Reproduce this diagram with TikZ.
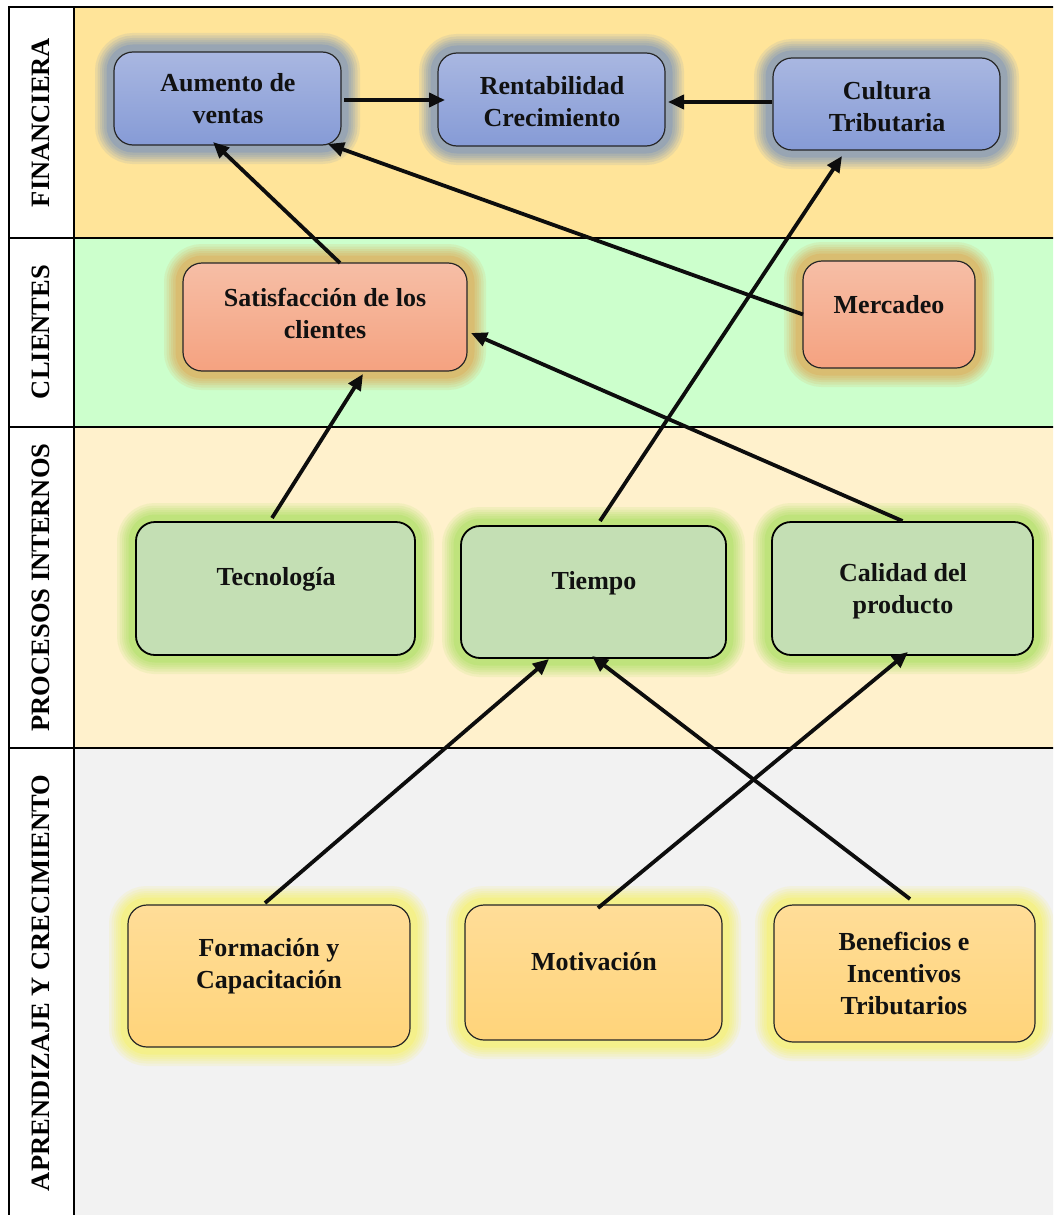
\documentclass[tikz,border=0pt]{standalone}
\usepackage{fontspec}
\setmainfont{Liberation Serif}
\usetikzlibrary{arrows.meta,calc}
\definecolor{finBG}{RGB}{255,228,153}
\definecolor{cliBG}{RGB}{204,255,204}
\definecolor{proBG}{RGB}{255,241,204}
\definecolor{aprBG}{RGB}{242,242,242}
\definecolor{blueTop}{RGB}{169,183,225}
\definecolor{blueBot}{RGB}{134,155,214}
\definecolor{salTop}{RGB}{246,190,166}
\definecolor{salBot}{RGB}{245,162,128}
\definecolor{grnFill}{RGB}{196,223,180}
\definecolor{ylwTop}{RGB}{255,221,152}
\definecolor{ylwBot}{RGB}{255,212,122}
\definecolor{glowBlue}{RGB}{135,155,185}
\definecolor{glowSal}{RGB}{220,178,98}
\definecolor{glowGrn}{RGB}{180,226,110}
\definecolor{glowYlw}{RGB}{246,240,120}
\definecolor{txtc}{RGB}{17,17,17}
\tikzset{
  glow/.style={
    preaction={draw=#1, draw opacity=0.16, line width=38pt},
    preaction={draw=#1, draw opacity=0.18, line width=33pt},
    preaction={draw=#1, draw opacity=0.2, line width=28pt},
    preaction={draw=#1, draw opacity=0.22, line width=24pt},
    preaction={draw=#1, draw opacity=0.25, line width=20pt},
    preaction={draw=#1, draw opacity=0.5, line width=15pt}},
  boxbase/.style={rectangle, rounded corners=19pt, inner sep=0pt, outer sep=0pt,
    draw=black!85, line width=1.2pt},
  bluebox/.style={boxbase, glow=glowBlue, top color=blueTop, bottom color=blueBot},
  salbox/.style={boxbase, glow=glowSal, top color=salTop, bottom color=salBot},
  grnbox/.style={boxbase, glow=glowGrn, fill=grnFill, line width=1.8pt, draw=black},
  ylwbox/.style={boxbase, glow=glowYlw, top color=ylwTop, bottom color=ylwBot},
  txt/.style={align=center, inner sep=0pt, text=txtc,
    font=\fontsize{26}{32}\selectfont\bfseries},
  lanelbl/.style={rotate=90, inner sep=0pt, text=black,
    font=\fontsize{26.5}{30}\selectfont\bfseries},
  arr/.style={line width=3.8pt, draw=black!95,
    -{Triangle[length=16pt,width=14pt]}},
  sep/.style={line width=1.8pt, draw=black}
}
\begin{document}
\begin{tikzpicture}[x=1pt,y=-1pt]
\useasboundingbox (0,0) rectangle (1053,1215);
\clip (0,0) rectangle (1053,1215);
% lanes
\fill[white] (0,0) rectangle (1053,1215);
\fill[finBG] (74,7) rectangle (1060,238);
\fill[cliBG] (74,238) rectangle (1060,427);
\fill[proBG] (74,427) rectangle (1060,748);
\fill[aprBG] (74,748) rectangle (1060,1225);
\draw[sep] (9,1225) -- (9,7) -- (1060,7);
\draw[sep] (9,238) -- (1060,238);
\draw[sep] (9,427) -- (1060,427);
\draw[sep] (9,748) -- (1060,748);
\draw[sep] (74,7) -- (74,1225);
% lane labels
\node[lanelbl] (lF) at (41,122.5) {FINANCIERA};
\node[lanelbl] (lC) at (41,332) {CLIENTES};
\node[lanelbl] (lP) at (41,587.5) {PROCESOS INTERNOS};
\node[lanelbl] (lA) at (41,983) {APRENDIZAJE Y CRECIMIENTO};
% boxes
\node[bluebox, minimum width=227pt, minimum height=93pt] (aum) at (227.5,98.5) {};
\node[bluebox, minimum width=227pt, minimum height=93pt] (rent) at (551.5,99.5) {};
\node[bluebox, minimum width=227pt, minimum height=92pt] (cult) at (886.5,104) {};
\node[salbox, minimum width=284pt, minimum height=108pt] (sat) at (325,317) {};
\node[salbox, minimum width=172pt, minimum height=107pt] (merc) at (889,314.5) {};
\node[grnbox, minimum width=279pt, minimum height=133pt] (tec) at (275.5,588.5) {};
\node[grnbox, minimum width=265pt, minimum height=132pt] (tiem) at (593.5,592) {};
\node[grnbox, minimum width=261pt, minimum height=133pt] (cal) at (902.5,588.5) {};
\node[ylwbox, minimum width=282pt, minimum height=142pt] (form) at (269,976) {};
\node[ylwbox, minimum width=257pt, minimum height=135pt] (mot) at (593.5,972.5) {};
\node[ylwbox, minimum width=261pt, minimum height=137pt] (ben) at (904.5,973.5) {};
% texts
\node[txt] (aumT) at (228,99) {Aumento de\\ventas};
\node[txt] (rentT) at (552,102) {Rentabilidad\\Crecimiento};
\node[txt] (cultT) at (887,107) {Cultura\\Tributaria};
\node[txt] (satT) at (325,313) {Satisfacción de los\\clientes};
\node[txt] (mercT) at (889,305) {Mercadeo};
\node[txt] (tecT) at (276,579) {Tecnología};
\node[txt] (tiemT) at (594,583) {Tiempo};
\node[txt] (calT) at (903,591) {Calidad del\\producto};
\node[txt] (formT) at (269,966) {Formación y\\Capacitación};
\node[txt] (motT) at (594,962) {Motivación};
\node[txt] (benT) at (904,973) {Beneficios e\\Incentivos\\Tributarios};
% connectors
\draw[arr] ([xshift=3pt,yshift=-1.5pt]aum.east) -- ([xshift=7pt,yshift=-0.5pt]rent.west);
\draw[arr] ([xshift=-1pt,yshift=2pt]cult.west) -- ([xshift=3pt,yshift=-2.5pt]rent.east);
\draw[arr] ([xshift=15pt]sat.north) -- ([xshift=-14.5pt,yshift=3pt]aum.south);
\draw[arr] (merc.west) -- ([xshift=-13pt,yshift=1pt]aum.south east);
\draw[arr] ([xshift=6.5pt,yshift=5pt]tiem.north) -- ([xshift=-44.5pt,yshift=-6pt]cult.south);
\draw[arr] ([xshift=-3.5pt,yshift=4pt]tec.north) -- ([xshift=38pt,yshift=-3pt]sat.south);
\draw[arr] ([yshift=1pt]cal.north) -- ([xshift=4pt,yshift=-16pt]sat.east);
\draw[arr] ([xshift=-4pt,yshift=2pt]form.north) -- ([xshift=-44.5pt,yshift=-1pt]tiem.south);
\draw[arr] ([xshift=5.5pt,yshift=6pt]ben.north) -- ([xshift=-1.5pt,yshift=2pt]tiem.south);
\draw[arr] ([xshift=4.5pt,yshift=-3pt]mot.north) -- ([xshift=5.5pt,yshift=3pt]cal.south);
\end{tikzpicture}
\end{document}
